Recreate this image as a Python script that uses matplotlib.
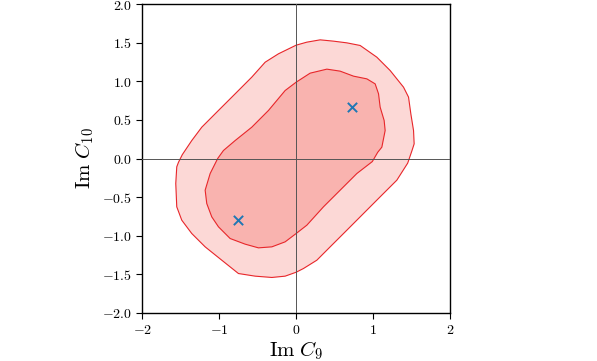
import matplotlib
matplotlib.use("Agg")
import matplotlib.pyplot as plt
from matplotlib.ticker import FixedLocator, FuncFormatter

plt.rcParams['mathtext.fontset'] = 'cm'
plt.rcParams['font.family'] = 'serif'
plt.rcParams['font.serif'] = ['DejaVu Serif']

# Outer (2 sigma) contour boundary
outer_x = [0.0, 0.139, 0.312, 0.486, 0.659, 0.832, 1.049, 1.222, 1.396, 1.461, 1.491,
           1.526, 1.534, 1.505, 1.45, 1.309, 1.092, 0.876, 0.659, 0.442, 0.269, 0.095,
           0.0, -0.143, -0.316, -0.533, -0.75, -0.967, -1.183, -1.357, -1.487, -1.552,
           -1.565, -1.552, -1.53, -1.48, -1.357, -1.227, -1.01, -0.793, -0.577, -0.403,
           -0.23]
outer_y = [1.47, 1.509, 1.539, 1.522, 1.50, 1.466, 1.314, 1.141, 0.925, 0.796, 0.579,
           0.363, 0.19, 0.10, -0.06, -0.281, -0.497, -0.713, -0.93, -1.146, -1.319, -1.427,
           -1.475, -1.526, -1.543, -1.526, -1.492, -1.319, -1.146, -0.973, -0.80, -0.627,
           -0.324, -0.108, -0.05, 0.05, 0.233, 0.406, 0.623, 0.839, 1.055, 1.249,
           1.358]

# Inner (1 sigma) contour boundary
inner_x = [0.0, 0.182, 0.399, 0.572, 0.746, 0.919, 1.027, 1.071, 1.092, 1.144, 1.157,
           1.114, 1.06, 0.99, 0.789, 0.572, 0.355, 0.139, 0.0, -0.143, -0.316, -0.49,
           -0.663, -0.858, -1.01, -1.097, -1.162, -1.183, -1.118, -1.02, -0.945, -0.793,
           -0.577, -0.36, -0.143]
inner_y = [0.99, 1.107, 1.159, 1.133, 1.068, 1.033, 0.968, 0.839, 0.666, 0.493, 0.363,
           0.147, 0.08, -0.04, -0.195, -0.411, -0.627, -0.865, -0.973, -1.081, -1.146, -1.159,
           -1.111, -1.038, -0.886, -0.757, -0.584, -0.411, -0.195, 0.0, 0.104, 0.233,
           0.406, 0.623, 0.882]

# Best-fit points
pts_x = [0.72, -0.76]
pts_y = [0.665, -0.80]

xticks = [-2, -1, 0, 1, 2]
yticks = [-2.0, -1.5, -1.0, -0.5, 0.0, 0.5, 1.0, 1.5, 2.0]

fig = plt.figure(figsize=(5.97, 3.61), dpi=100)
ax = fig.add_axes([142.3 / 597, 1 - 312.7 / 361, 307.7 / 597, 308.4 / 361])

ax.fill(outer_x, outer_y, facecolor='#fcd8d6', edgecolor='#e8262a', linewidth=0.8,
        joinstyle='round', zorder=1)
ax.fill(inner_x, inner_y, facecolor='#f9b3af', edgecolor='#e8262a', linewidth=0.8,
        joinstyle='round', zorder=2)

ax.axhline(0, color='#555555', linewidth=0.7, zorder=3)
ax.axvline(0, color='#555555', linewidth=0.7, zorder=3)

ax.scatter(pts_x, pts_y, marker='x', color='#1f77b4', s=45, linewidths=1.4, zorder=4)

ax.set_xlim(-2, 2)
ax.set_ylim(-2, 2)
ax.xaxis.set_major_locator(FixedLocator(xticks))
ax.yaxis.set_major_locator(FixedLocator(yticks))
ax.xaxis.set_major_formatter(FuncFormatter(lambda v, p: r'$%d$' % v))
ax.yaxis.set_major_formatter(FuncFormatter(lambda v, p: r'$%.1f$' % v))
ax.tick_params(labelsize=10, direction='out', length=4, width=0.8)
for s in ax.spines.values():
    s.set_linewidth(1.0)

ax.set_xlabel(r'$\mathrm{Im}\ C_9$', fontsize=15, labelpad=2)
ax.set_ylabel(r'$\mathrm{Im}\ C_{10}$', fontsize=15, labelpad=4)

fig.savefig('out.png', dpi=100)
